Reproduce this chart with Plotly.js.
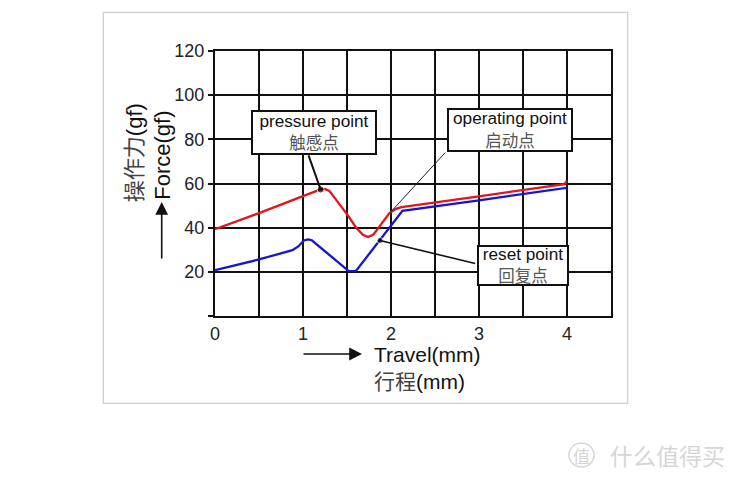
<!DOCTYPE html>
<html>
<head>
<meta charset="utf-8">
<script src="https://cdn.plot.ly/plotly-3.0.1.min.js"></script>
<style>
html,body{margin:0;padding:0;background:#fff;}
#chart{width:736px;height:482px;}
</style>
</head>
<body>
<div id="chart"></div>
<script>
// ---- data ----
var travelPress = [0, 0.5, 1.0, 1.2, 1.25, 1.3, 1.36, 1.44, 1.52, 1.6, 1.68, 1.74, 1.8, 1.86, 1.92, 1.98, 2.05, 2.12, 3.0, 3.97, 4.0];
var forcePress  = [39.3, 46.6, 54.3, 57.3, 57.5, 56.6, 53.5, 49.3, 45, 40.2, 36.8, 35.8, 36.9, 40, 43.5, 46.5, 48.4, 49.3, 54.2, 59.7, 61.3];
var travelReturn = [0, 0.5, 0.88, 0.95, 1.01, 1.06, 1.1, 1.52, 1.6, 1.875, 2.13, 3.0, 3.99, 4.0];
var forceReturn  = [20.8, 25.6, 29.8, 31.6, 34.2, 34.7, 34.3, 20.3, 20.3, 34.2, 47.6, 52.4, 58.0, 57.4];
var xTickVals = [0, 0.5, 1, 1.5, 2, 2.5, 3, 3.5, 4, 4.5];
var xTickText = ['0', '', '1', '', '2', '', '3', '', '4', ''];
var yTickVals = [0, 20, 40, 60, 80, 100, 120];
var yTickText = ['', '20', '40', '60', '80', '100', '120'];
var pointNamesEn = ['pressure point', 'operating point', 'reset point'];
var pointNamesZh = ['触感点', '启动点', '回复点'];
var pointTravel = [1.2, 1.99, 1.875];
var pointForce  = [57.3, 46.8, 34.2];

var RED = '#e2141c', BLUE = '#1414d2';
var latin = 'Liberation Sans, Arial, sans-serif';
var cjk = 'Noto Sans CJK SC, sans-serif';

var traces = [
  {x: travelPress, y: forcePress, mode: 'lines', line: {color: RED, width: 2.3}, hoverinfo: 'skip'},
  {x: travelReturn, y: forceReturn, mode: 'lines', line: {color: BLUE, width: 2.3}, hoverinfo: 'skip'},
  {x: [pointTravel[0], pointTravel[2]], y: [pointForce[0], pointForce[2]], mode: 'markers',
   marker: {color: '#000', size: [7, 6]}, hoverinfo: 'skip'}
];

function label(i) {
  return '<span style="font-family:' + latin + ';color:#111">' + pointNamesEn[i] + '</span><br>' +
         '<span style="font-family:' + cjk + ';color:#555;font-size:16.5px">' + pointNamesZh[i] + '</span>';
}

// px -> paper helpers for layout placement (plot area 215..611 x, 51..316 y)
function px(xp) { return (xp - 215) / 396; }
function py(yp) { return (316 - yp) / 265; }

function txt(o) {
  o.xref = 'paper'; o.yref = 'paper'; o.showarrow = false;
  if (!o.xanchor) o.xanchor = 'center';
  o.yanchor = 'middle';
  return o;
}

var annotations = [
  // callout boxes
  txt({x: px(314), y: py(132), text: label(0),
   width: 122, height: 41, bgcolor: '#fff', bordercolor: '#111', borderwidth: 2, borderpad: 0,
   font: {size: 17.2, color: '#111', family: latin}, align: 'center'}),
  txt({x: px(509.7), y: py(129.7), text: label(1),
   width: 122, height: 40, bgcolor: '#fff', bordercolor: '#111', borderwidth: 2, borderpad: 0,
   font: {size: 17.2, color: '#111', family: latin}, align: 'center'}),
  txt({x: px(522.5), y: py(265), text: label(2),
   width: 88, height: 37, bgcolor: '#fff', bordercolor: '#111', borderwidth: 2, borderpad: 0,
   font: {size: 17.2, color: '#111', family: latin}, align: 'center'}),
  // leader lines
  {x: pointTravel[0], y: pointForce[0], xref: 'x', yref: 'y', axref: 'x', ayref: 'y',
   ax: 1.057, ay: 73.4, text: '', showarrow: true, arrowhead: 0, arrowwidth: 2, arrowcolor: '#111'},
  {x: pointTravel[1], y: pointForce[1], xref: 'x', yref: 'y', axref: 'x', ayref: 'y',
   ax: 2.633, ay: 74.7, text: '', showarrow: true, arrowhead: 0, arrowwidth: 1, arrowcolor: '#222'},
  {x: pointTravel[2], y: pointForce[2], xref: 'x', yref: 'y', axref: 'x', ayref: 'y',
   ax: 2.974, ay: 23.6, text: '', showarrow: true, arrowhead: 0, arrowwidth: 1.6, arrowcolor: '#111'},
  // x axis title
  txt({x: px(372), y: py(354), xanchor: 'left',
   text: 'Travel(mm)', font: {size: 21, color: '#111', family: latin}}),
  txt({x: px(372), y: py(380), xanchor: 'left',
   text: '<span style="font-family:' + cjk + ';color:#444">行程</span>(mm)',
   font: {size: 21, color: '#111', family: latin}}),
  {xref: 'paper', yref: 'paper', x: px(362), y: py(354), ax: -60, ay: 0, text: '', showarrow: true,
   arrowhead: 2, arrowsize: 1.6, arrowwidth: 1.6, arrowcolor: '#111'},
  // y axis title
  txt({x: px(161.7), y: py(155), textangle: -90,
   text: 'Force(gf)', font: {size: 22, color: '#111', family: latin}}),
  txt({x: px(131.7), y: py(152.5), textangle: -90,
   text: '<span style="font-family:' + cjk + ';color:#444">操作力</span>(gf)',
   font: {size: 22, color: '#111', family: latin}}),
  {xref: 'paper', yref: 'paper', x: px(161.7), y: py(202), ax: 0, ay: 58, text: '', showarrow: true,
   arrowhead: 2, arrowsize: 1.6, arrowwidth: 1.6, arrowcolor: '#111'},
  // watermark
  txt({x: px(581.5), y: py(455), text: '值', font: {size: 17, color: '#d6d6d6', family: cjk}}),
  txt({x: px(667), y: py(455), text: '什么值得买', font: {size: 23, color: '#d6d6d6', family: cjk}})
];

var shapes = [
  {type: 'rect', xref: 'paper', yref: 'paper', x0: px(103.3), x1: px(627.7), y0: py(403.3), y1: py(12.3),
   line: {color: '#cfcfcf', width: 1.3}, layer: 'below'},
  {type: 'circle', xref: 'paper', yref: 'paper', x0: px(569), x1: px(594), y0: py(467), y1: py(443),
   line: {color: '#d6d6d6', width: 1.5}}
];

var layout = {
  width: 736, height: 482,
  margin: {l: 215, r: 125, t: 51, b: 166, pad: 0},
  paper_bgcolor: '#fff', plot_bgcolor: '#fff',
  showlegend: false,
  xaxis: {range: [0, 4.5], tickvals: xTickVals, ticktext: xTickText, showgrid: true,
          gridcolor: '#111', gridwidth: 2, zeroline: false, showline: true, mirror: true,
          linecolor: '#111', linewidth: 2, ticks: '', fixedrange: true,
          tickfont: {size: 18, color: '#222', family: latin}},
  yaxis: {range: [0, 120], tickvals: yTickVals, ticktext: yTickText, showgrid: true,
          gridcolor: '#111', gridwidth: 2, zeroline: false, showline: true, mirror: true,
          linecolor: '#111', linewidth: 2, ticks: 'outside', ticklen: 5, tickwidth: 2, tickcolor: '#111',
          fixedrange: true, tickfont: {size: 18, color: '#222', family: latin}},
  annotations: annotations,
  shapes: shapes
};

Plotly.newPlot('chart', traces, layout, {displayModeBar: false, staticPlot: true});
</script>
</body>
</html>
